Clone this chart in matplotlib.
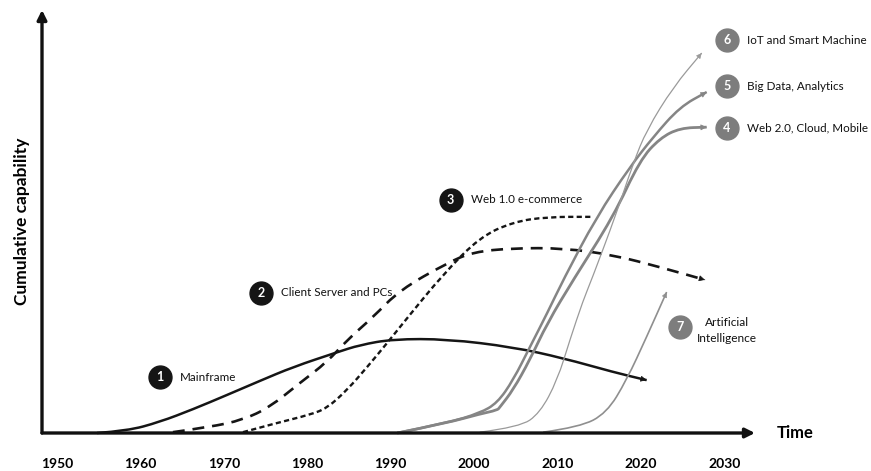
import matplotlib
matplotlib.use("Agg")
import matplotlib.pyplot as plt
from matplotlib.path import Path
from matplotlib.patches import PathPatch
import numpy as np

plt.rcParams['font.family'] = ['Lato', 'DejaVu Sans']

# Technology waves: year vs. cumulative capability (0-100 scale)
mainframe_yr = [1954.8, 1958.4, 1962.3, 1966.3, 1970.4, 1974.3, 1978.3, 1983.6,
                1986.3, 1990.3, 1996.8, 2004.7, 2010.7, 2016.7, 2020.7]
mainframe_cap = [0, 0.5, 2.6, 5.6, 9.0, 12.3, 15.6, 19.1,
                 20.8, 22.2, 22.2, 20.3, 17.7, 14.4, 12.5]

client_yr = [1963.9, 1968.3, 1972.3, 1975.5, 1979.1, 1982.4, 1984.8, 1987.9,
             1991.1, 1996.8, 1999.9, 2004.7, 2010.7, 2016.7, 2022.7, 2027.7]
client_cap = [0.2, 1.4, 3.1, 6.1, 11.8, 16.8, 22.0, 27.4,
              33.8, 40.2, 42.8, 43.7, 43.7, 42.1, 39.0, 36.2]

web1_yr = [1972.3, 1976.4, 1980.3, 1982.4, 1984.8, 1987.2, 1989.6, 1992.0,
           1996.3, 2000.7, 2004.7, 2008.8, 2014.3]
web1_cap = [0.2, 2.4, 4.3, 5.9, 10.2, 15.6, 21.3, 27.2,
            37.5, 46.3, 49.9, 51.1, 51.1]

web2_yr = [1990.8, 1996.8, 2000.7, 2002.8, 2003.1, 2004.7, 2006.7, 2008.8,
           2011.9, 2016.7, 2019.9, 2022.3, 2024.7, 2027.9]
web2_cap = [0, 2.4, 4.5, 5.4, 6.1, 10.2, 17.3, 26.0,
            36.2, 51.1, 64.5, 69.7, 72.1, 72.3]

bigdata_yr = [1990.8, 1996.8, 2000.7, 2002.8, 2004.7, 2006.7, 2008.8, 2010.7,
              2014.7, 2018.7, 2021.5, 2024.7, 2027.9]
bigdata_cap = [0, 2.4, 4.7, 7.1, 12.5, 20.3, 28.4, 36.2,
               51.1, 62.9, 70.0, 77.1, 80.6]

iot_yr = [2000.7, 2005.5, 2007.9, 2010.0, 2011.5, 2013.1, 2014.1, 2017.1,
          2019.1, 2020.7, 2023.9, 2027.3]
iot_cap = [0.2, 1.4, 4.7, 12.5, 22.0, 31.4, 36.2, 52.0,
           63.8, 71.6, 81.8, 89.8]

ai_yr = [2008.3, 2012.7, 2015.9, 2018.3, 2020.7, 2023.1]
ai_cap = [0.2, 1.4, 4.7, 12.5, 22.7, 33.3]

years = [1950, 1960, 1970, 1980, 1990, 2000, 2010, 2020, 2030]


def smooth_path(x, y):
    # quadratic bezier through the midpoints of the given points
    pts = np.column_stack([x, y])
    verts = [pts[0]]
    codes = [Path.MOVETO]
    for i in range(1, len(pts) - 1):
        mid = (pts[i] + pts[i + 1]) / 2
        verts += [pts[i], mid]
        codes += [Path.CURVE3, Path.CURVE3]
    verts.append(pts[-1])
    codes.append(Path.LINETO)
    return Path(verts, codes)


def draw_curve(ax, x, y, color, lw, ls='-', head=True, hs=9):
    ax.add_patch(PathPatch(smooth_path(x, y), facecolor='none', edgecolor=color,
                           lw=lw, linestyle=ls, clip_on=False, capstyle='butt'))
    if head:
        dx = x[-1] - x[-2]
        dy = y[-1] - y[-2]
        n = np.hypot(dx, dy)
        ax.annotate('', xy=(x[-1], y[-1]),
                    xytext=(x[-1] - 0.01 * dx / n, y[-1] - 0.01 * dy / n),
                    arrowprops=dict(arrowstyle='-|>', color=color, lw=0.5,
                                    mutation_scale=hs, shrinkA=0, shrinkB=0),
                    annotation_clip=False)


fig = plt.figure(figsize=(8.71, 4.71), dpi=100)
ax = fig.add_axes([42 / 871, 38 / 471, 713 / 871, 423 / 471])
ax.set_xlim(1948.2, 2033.7)
ax.set_ylim(0, 100)
for s in ax.spines.values():
    s.set_visible(False)

# axis arrows
ax.annotate('', xy=(1, 0), xytext=(0, 0), xycoords='axes fraction',
            arrowprops=dict(arrowstyle='-|>', color='#111111', lw=2.4,
                            mutation_scale=14, shrinkA=0, shrinkB=0))
ax.annotate('', xy=(0, 1), xytext=(0, 0), xycoords='axes fraction',
            arrowprops=dict(arrowstyle='-|>', color='#111111', lw=2.4,
                            mutation_scale=14, shrinkA=0, shrinkB=0))

ax.set_xticks(years)
ax.set_xticklabels([str(y) for y in years], fontsize=10, fontweight='bold')
ax.tick_params(axis='x', length=0, pad=18)
ax.set_yticks([])
ax.set_ylabel('Cumulative capability', fontsize=12.5, fontweight='bold', labelpad=9)
ax.text(2036.3, 0, 'Time', fontsize=12, fontweight='bold', va='center', ha='left')

black = '#151515'
gray = '#858585'
draw_curve(ax, mainframe_yr, mainframe_cap, black, 1.8)
draw_curve(ax, client_yr, client_cap, black, 1.9, ls=(0, (4.5, 3)))
draw_curve(ax, web1_yr, web1_cap, black, 1.7, ls=(0, (2.2, 1.4)), head=False)
draw_curve(ax, web2_yr, web2_cap, gray, 2.0)
draw_curve(ax, bigdata_yr, bigdata_cap, gray, 1.8)
draw_curve(ax, iot_yr, iot_cap, '#9a9a9a', 0.9, hs=8)
draw_curve(ax, ai_yr, ai_cap, '#8f8f8f', 1.2, hs=8)

# numbered wave labels
labels = [
    ('1', 1962.35, 13.2, 'Mainframe', black),
    ('2', 1974.5, 33.1, 'Client Server and PCs', black),
    ('3', 1997.2, 55.1, 'Web 1.0 e-commerce', black),
    ('6', 2030.3, 92.9, 'IoT and Smart Machine', '#7d7d7d'),
    ('5', 2030.3, 82.0, 'Big Data, Analytics', '#7d7d7d'),
    ('4', 2030.3, 72.1, 'Web 2.0, Cloud, Mobile', '#7d7d7d'),
]
for num, x, y, txt, c in labels:
    ax.plot([x], [y], 'o', ms=16.5, color=c, clip_on=False)
    ax.text(x, y, num, color='white', fontsize=9, fontweight='bold',
            ha='center', va='center')
    ax.text(x + 2.4, y, txt, fontsize=8.4, ha='left', va='center', color='#111111')

ax.plot([2024.7], [25.1], 'o', ms=16.5, color='#7d7d7d', clip_on=False)
ax.text(2024.7, 25.1, '7', color='white', fontsize=9, fontweight='bold',
        ha='center', va='center')
ax.text(2030.3, 24.3, 'Artificial\nIntelligence', fontsize=8.6, ha='center',
        va='center', color='#111111', linespacing=1.6)

fig.savefig('out.png', dpi=100)
